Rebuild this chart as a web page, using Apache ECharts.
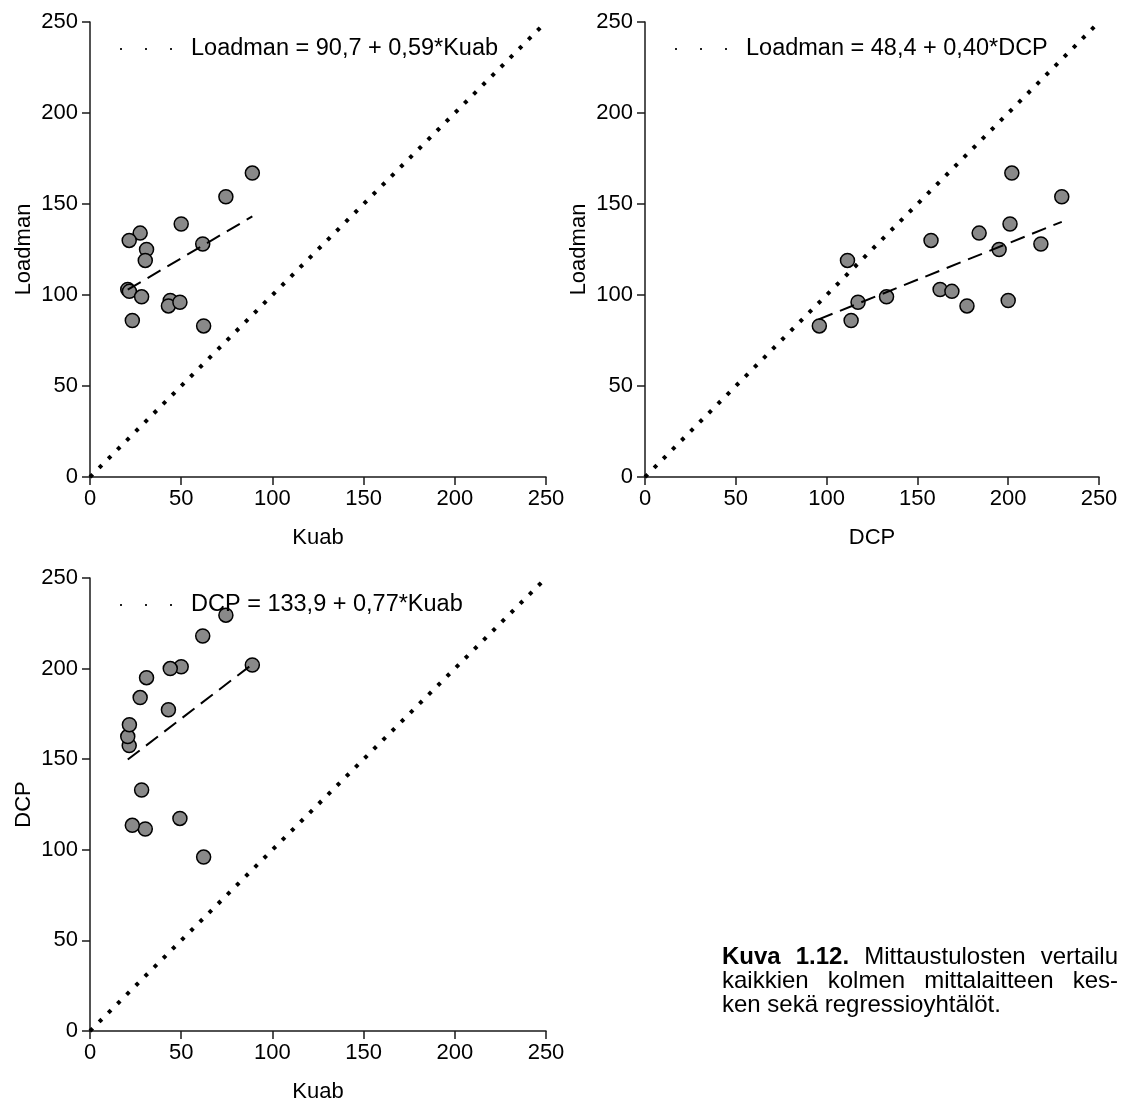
<!DOCTYPE html>
<html><head><meta charset="utf-8">
<script src="https://cdn.jsdelivr.net/npm/echarts@6/dist/echarts.min.js"></script>
<style>html,body{margin:0;padding:0;background:#fff}#c{width:1133px;height:1104px}</style>
</head><body><div id="c"></div>
<script>
// ---- data ----
const kuab    = [89, 74.5, 50, 27.5, 21.5, 31, 30.3, 61.8, 20.7, 21.6, 28.3, 44, 43, 49.3, 23.2, 62.3];
const loadman = [167, 154, 139, 134, 130, 125, 119, 128, 103, 102, 99, 97, 94, 96, 86, 83];
const dcp     = [202, 229.5, 201, 184, 157.5, 195, 111.5, 218, 162.5, 169, 133, 200, 177.3, 117.3, 113.5, 96];
const axisMin = 0, axisMax = 250, axisStep = 50;
const identityLine = [0, 250];
const fitLoadmanKuab = [[20.7, 102.9], [89, 143.2]];
const fitLoadmanDcp  = [[95.6, 86.6], [229.5, 140.2]];
const fitDcpKuab     = [[20.7, 149.8], [89, 202.4]];
const equations = ['Loadman = 90,7 + 0,59*Kuab', 'Loadman = 48,4 + 0,40*DCP', 'DCP = 133,9 + 0,77*Kuab'];
const axisNames = [['Kuab', 'Loadman'], ['DCP', 'Loadman'], ['Kuab', 'DCP']];
const captionLines = [
  {justify: true,  words: [['Kuva', true], ['1.12.', true], ['Mittaustulosten', false], ['vertailu', false]]},
  {justify: true,  words: [['kaikkien', false], ['kolmen', false], ['mittalaitteen', false], ['kes-', false]]},
  {justify: false, words: [['ken sekä regressioyhtälöt.', false]]}
];

// ---- layout / style ----
const FONT = '"Liberation Sans", Arial, sans-serif';
const FS = 22;
const grids = [
  {left: 90,  top: 22,  width: 456, height: 455},
  {left: 645, top: 22,  width: 454, height: 455},
  {left: 90,  top: 578, width: 456, height: 456}
];
const legendPos = [{left: 115, top: 32}, {left: 670, top: 32}, {left: 115, top: 588}];

function zip(a, b) { return a.map((v, i) => [v, b[i]]); }
const scatterData = [zip(kuab, loadman), zip(dcp, loadman), zip(kuab, dcp)];
const fits = [fitLoadmanKuab, fitLoadmanDcp, fitDcpKuab];

const axisCommon = {
  type: 'value', min: axisMin, max: axisMax, interval: axisStep,
  splitLine: {show: false},
  axisLine: {show: true, onZero: false, lineStyle: {color: '#1a1a1a', width: 1.5}},
  axisTick: {show: true, inside: false, length: 8, lineStyle: {color: '#1a1a1a', width: 1.5}},
  axisLabel: {color: '#000', fontSize: FS, fontFamily: FONT},
  nameLocation: 'middle',
  nameTextStyle: {color: '#000', fontSize: FS, fontFamily: FONT}
};

const xAxis = [], yAxis = [], series = [], legend = [];
const dotsIcon = 'path://M0,0h2v2h-2z M25,0h2v2h-2z M50,0h2v2h-2z';
for (let i = 0; i < 3; i++) {
  xAxis.push(Object.assign({}, axisCommon, {gridIndex: i, name: axisNames[i][0], nameGap: 50,
    axisLabel: Object.assign({}, axisCommon.axisLabel, {margin: 11})}));
  yAxis.push(Object.assign({}, axisCommon, {gridIndex: i, name: axisNames[i][1], nameGap: 55,
    axisLabel: Object.assign({}, axisCommon.axisLabel, {margin: 12})}));
  series.push({
    type: 'scatter', xAxisIndex: i, yAxisIndex: i, name: 'pts' + i,
    data: scatterData[i], symbol: 'circle', symbolSize: 14, z: 2,
    itemStyle: {color: '#898989', borderColor: '#000', borderWidth: 1.5, opacity: 1}
  });
  series.push({
    type: 'line', xAxisIndex: i, yAxisIndex: i, name: equations[i],
    data: identityLine.map(v => [v, v]), showSymbol: false, symbol: 'none', z: 3,
    lineStyle: {color: '#000', width: 4, type: [3.8, 9.1], cap: 'butt'}
  });
  series.push({
    type: 'line', xAxisIndex: i, yAxisIndex: i, name: 'fit' + i,
    data: fits[i], showSymbol: false, symbol: 'none', z: 4,
    lineStyle: {color: '#000', width: 2, type: [15, 8], cap: 'butt'}
  });
  legend.push({
    left: legendPos[i].left, top: legendPos[i].top, orient: 'horizontal',
    selectedMode: false, itemWidth: 52, itemHeight: 2,
    data: [{name: equations[i], icon: dotsIcon, itemStyle: {color: '#222'}}],
    textStyle: {color: '#000', fontSize: 23.5, fontFamily: FONT, padding: [0, 0, 0, 14]}
  });
}

// ---- caption (justified like the reference) ----
const capLeft = 722, capRight = 1118, capFS = 24;
const capCenters = [957, 981, 1005];
const mctx = document.createElement('canvas').getContext('2d');
function mw(t, bold) { mctx.font = (bold ? 'bold ' : '') + capFS + 'px ' + FONT; return mctx.measureText(t).width; }
const graphic = [];
captionLines.forEach((ln, li) => {
  const widths = ln.words.map(w => mw(w[0], w[1]));
  const total = widths.reduce((a, b) => a + b, 0);
  const gap = ln.justify && ln.words.length > 1 ? (capRight - capLeft - total) / (ln.words.length - 1) : mw(' ', false);
  let x = capLeft;
  ln.words.forEach((w, wi) => {
    graphic.push({type: 'text', x: x, y: capCenters[li], style: {
      text: w[0], fill: '#000', fontSize: capFS, fontFamily: FONT, fontWeight: w[1] ? 'bold' : 'normal',
      verticalAlign: 'middle', align: 'left'}});
    x += widths[wi] + gap;
  });
});

const chart = echarts.init(document.getElementById('c'), null, {renderer: 'canvas'});
chart.setOption({
  backgroundColor: '#fff', animation: false,
  grid: grids, xAxis: xAxis, yAxis: yAxis, series: series, legend: legend, graphic: graphic
});
</script></body></html>
